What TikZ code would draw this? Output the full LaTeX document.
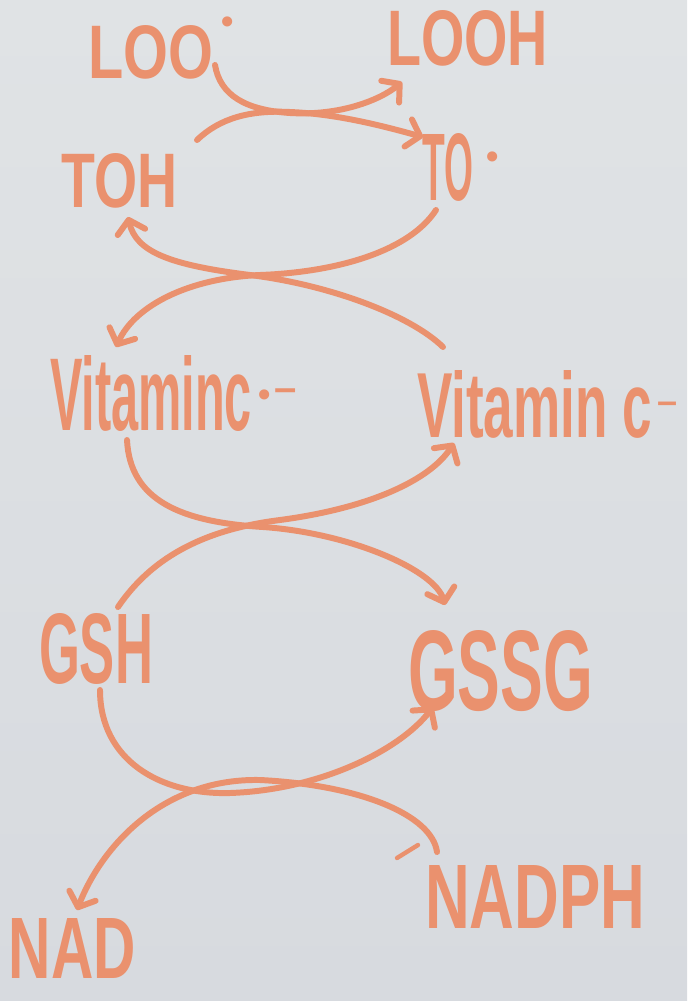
\documentclass[tikz,border=0pt]{standalone}
\usepackage{fontspec}
\setmainfont{Liberation Sans}
\usetikzlibrary{arrows.meta}
\definecolor{marker}{RGB}{234,145,110}
\definecolor{boardtop}{RGB}{224,227,229}
\definecolor{boardbot}{RGB}{215,218,223}
\newcommand{\rdot}[2]{\hspace*{#1}\raisebox{#2}{\fontsize{20}{20}\selectfont •}}
\newcommand{\rminus}[3]{\hspace*{#1}\raisebox{#2}{\fontsize{#3}{#3}\selectfont\bfseries –}}
\begin{document}
\begin{tikzpicture}[x=0.02cm,y=-0.02cm,
  lbl/.style={inner sep=0pt,outer sep=0pt,anchor=base west,text=marker,font=\bfseries},
  flow/.style={draw=marker,line width=3.4pt,line cap=round,-{Straight Barb[length=7pt,width=16pt,round]}},
  plain/.style={draw=marker,line width=3.4pt,line cap=round}]
\shade[top color=boardtop,bottom color=boardbot] (0,0) rectangle (687,1001);
\useasboundingbox (0,0) rectangle (687,1001);

\node[lbl] (loo) at (88,78) {\resizebox{2.50cm}{1.06cm}{LOO}\rdot{0.18cm}{0.9cm}};
\node[lbl] (looh) at (387,65) {\resizebox{3.22cm}{1.10cm}{LOOH}};
\node[lbl] (toh) at (62,207) {\resizebox{2.32cm}{1.08cm}{TOH}};
\node[lbl] (to) at (422,200) {\resizebox{1.02cm}{1.34cm}{TO}\rdot{0.28cm}{0.64cm}};
\node[lbl] (vcl) at (50,430) {\resizebox{4.04cm}{1.50cm}{Vitaminc}\rdot{0.14cm}{0.48cm}\rminus{0.07cm}{0.58cm}{22.8}};
\node[lbl] (vcr) at (417,437) {\resizebox{4.70cm}{1.34cm}{Vitamin c}\rminus{0.1cm}{0.48cm}{20.5}};
\node[lbl] (gsh) at (39,683) {\resizebox{2.28cm}{1.40cm}{GSH}};
\node[lbl] (gssg) at (408,710) {\resizebox{3.70cm}{1.60cm}{GSSG}};
\node[lbl] (nad) at (9,978) {\resizebox{2.54cm}{1.20cm}{NAD}};
\node[lbl] (nadph) at (425,928) {\resizebox{4.40cm}{1.26cm}{NADPH}};

\draw[flow] ([shift={(127,-13)}]loo.base west) .. controls (220,95) and (245,110) .. (290,113) .. controls (340,116) and (380,100) .. ([shift={(15,17)}]looh.base west);
\draw[flow] ([shift={(135,-67)}]toh.base west) .. controls (220,118) and (250,110) .. (290,112) .. controls (340,114) and (390,128) .. ([shift={(1,-63)}]to.base west);
\draw[flow] ([shift={(26,-90)}]vcr.base west) .. controls (410,315) and (330,285) .. (250,275) .. controls (170,265) and (136,252) .. ([shift={(66,10)}]toh.base west);
\draw[flow] ([shift={(14,10)}]to.base west) .. controls (410,250) and (340,272) .. (260,275) .. controls (190,278) and (135,305) .. ([shift={(66,-83)}]vcl.base west);
\draw[flow] ([shift={(77,10)}]vcl.base west) .. controls (130,500) and (180,522) .. (263,527) .. controls (350,533) and (435,570) .. ([shift={(37,-105)}]gssg.base west);
\draw[flow] ([shift={(79,-76)}]gsh.base west) .. controls (150,560) and (200,530) .. (280,520) .. controls (370,508) and (430,480) .. ([shift={(37,6)}]vcr.base west);
\draw[flow] ([shift={(61,7)}]gsh.base west) .. controls (100,760) and (160,795) .. (230,793) .. controls (320,790) and (400,750) .. ([shift={(25,-3)}]gssg.base west);
\draw[flow] ([shift={(12,-76)}]nadph.base west) .. controls (432,815) and (360,785) .. (260,780) .. controls (160,778) and (100,850) .. ([shift={(68,-68)}]nad.base west);
\draw[plain,line width=2.5pt] ([shift={(-28,-70)}]nadph.base west) -- ([shift={(-7,-83)}]nadph.base west);
\end{tikzpicture}
\end{document}
